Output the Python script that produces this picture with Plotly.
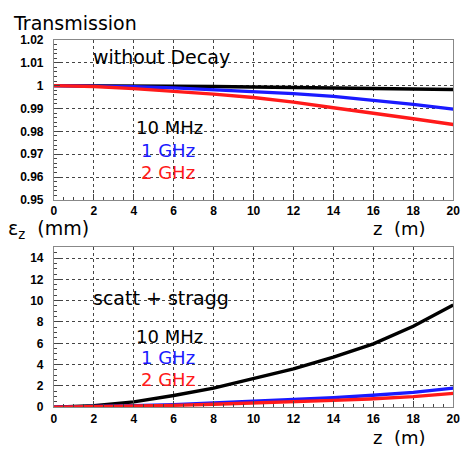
import plotly.graph_objects as go

# ---------------- data ----------------
z_top = [0, 2, 4, 6, 8, 10, 12, 14, 16, 18, 20]
trans_10mhz = [1.0, 1.0, 0.9998, 0.9997, 0.9996, 0.9994, 0.9993, 0.9991, 0.9988, 0.9985, 0.9983]
trans_1ghz = [1.0, 0.9998, 0.9995, 0.9990, 0.9982, 0.9975, 0.9965, 0.9953, 0.9937, 0.9918, 0.9897]
trans_2ghz = [1.0, 0.9996, 0.9987, 0.9976, 0.9963, 0.9948, 0.9928, 0.9903, 0.9880, 0.9855, 0.9830]

z_bot = [0, 2, 4, 6, 8, 10, 12, 14, 15.8, 16, 18, 20]
eps_10mhz = [0.0, 0.15, 0.5, 1.1, 1.8, 2.7, 3.6, 4.7, 5.75, 5.95, 7.6, 9.6]
eps_1ghz = [0.0, 0.05, 0.15, 0.25, 0.4, 0.55, 0.7, 0.9, 1.1, 1.12, 1.4, 1.8]
eps_2ghz = [0.0, 0.04, 0.1, 0.18, 0.28, 0.38, 0.5, 0.65, 0.78, 0.8, 1.0, 1.3]

labels = ["10 MHz", "1 GHz", "2 GHz"]
colors = ["#000000", "#1a1aff", "#ff1a1a"]

x_ticks = list(range(0, 21, 2))
top_ticks = [0.95, 0.96, 0.97, 0.98, 0.99, 1.0, 1.01, 1.02]
top_ticklabels = ["0.95", "0.96", "0.97", "0.98", "0.99", "1", "1.01", "1.02"]
bot_ticks = list(range(0, 15, 2))

# ---------------- figure ----------------
W, H = 470, 454
fig = go.Figure()

for ys, c in zip([trans_10mhz, trans_1ghz, trans_2ghz], colors):
    fig.add_trace(go.Scatter(x=z_top, y=ys, mode="lines", line=dict(color=c, width=3.4),
                             xaxis="x", yaxis="y", showlegend=False, hoverinfo="skip"))
for ys, c in zip([eps_10mhz, eps_1ghz, eps_2ghz], colors):
    fig.add_trace(go.Scatter(x=z_bot, y=ys, mode="lines", line=dict(color=c, width=3.4),
                             xaxis="x2", yaxis="y2", showlegend=False, hoverinfo="skip"))

xl, xr = 52 / W, 460 / W
def ydom(ytop, ybot):
    return [(H - ybot) / H, (H - ytop) / H]

tickfont = dict(family="Liberation Sans", size=12, color="black", weight="bold")
common_x = dict(range=[0, 20], tickvals=x_ticks, ticks="inside", ticklen=6, tickcolor="#444",
                showline=True, linecolor="#888", linewidth=1, mirror=True,
                showgrid=True, gridcolor="#444", griddash="dot", gridwidth=1,
                zeroline=False, tickfont=tickfont,
                minor=dict(dtick=0.5, ticks="inside", ticklen=3, tickcolor="#444", showgrid=False))

fig.update_layout(
    width=W, height=H, margin=dict(l=0, r=0, t=0, b=0),
    paper_bgcolor="white", plot_bgcolor="white",
    xaxis=dict(domain=[xl, xr], anchor="y", **common_x),
    yaxis=dict(domain=ydom(34, 199), anchor="x", range=[0.95, 1.02], tickvals=top_ticks,
               ticktext=top_ticklabels, ticks="inside", ticklen=6, tickcolor="#444",
               showline=True, linecolor="#888", mirror=True, ticklabelstandoff=7,
               showgrid=True, gridcolor="#444", griddash="dot", zeroline=False, tickfont=tickfont,
               minor=dict(dtick=0.002, ticks="inside", ticklen=3, tickcolor="#444", showgrid=False)),
    xaxis2=dict(domain=[xl, xr], anchor="y2", **common_x),
    yaxis2=dict(domain=ydom(248, 413), anchor="x2", range=[0, 15], tickvals=bot_ticks,
                ticks="inside", ticklen=6, tickcolor="#444", ticklabelstandoff=7,
                showline=True, linecolor="#888", mirror=True,
                showgrid=True, gridcolor="#444", griddash="dot", zeroline=False, tickfont=tickfont,
                minor=dict(dtick=0.5, ticks="inside", ticklen=3, tickcolor="#444", showgrid=False)),
)

FAM = "DejaVu Sans"
ann = []
def add(text, x, y, size=18, color="black", xanchor="left"):
    ann.append(dict(text=text, x=x, y=y, xref="paper", yref="paper", showarrow=False,
                    xanchor=xanchor, yanchor="middle",
                    font=dict(family=FAM, size=size, color=color)))

def px(xp, yp):
    return xp / W, (H - yp) / H

add("Transmission", *px(8, 16), size=19)
add("z  (m)", *px(376, 229), size=18)
add("ε<sub>z</sub>  (mm)", *px(3, 230), size=19)
add("z  (m)", *px(376, 444), size=18)

add("without Decay", *px(90, 52), size=19)
add("scatt + stragg", *px(90, 300), size=19)
for lab, c, yt, yb in zip(labels, colors, [124, 148, 171], [340, 362, 384]):
    xx = 134 if lab == "10 MHz" else 139
    add(lab, *px(xx, yt), size=18, color=c)
    add(lab, *px(xx, yb), size=18, color=c)

fig.update_layout(annotations=ann)
fig.write_html("out.html")
